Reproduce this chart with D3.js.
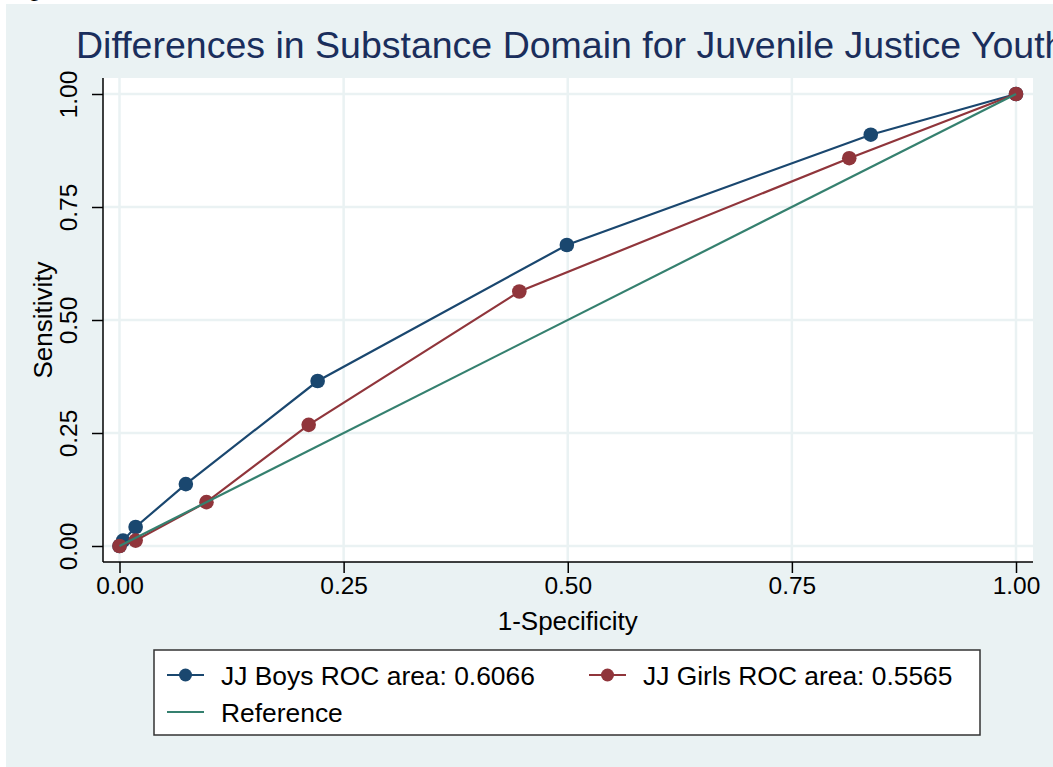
<!DOCTYPE html>
<html>
<head>
<meta charset="utf-8">
<script src="https://cdn.jsdelivr.net/npm/d3@7"></script>
<style>
    body { margin: 0; background: #ffffff; }
    text { font-family: "Liberation Sans", Arial, sans-serif; }
</style>
</head>
<body>
<div id="roc-chart"></div>
<script>

// ROC curve points (1-specificity, sensitivity)
const boysFpr = [0.000, 0.004, 0.018, 0.074, 0.221, 0.499, 0.838, 1.000];
const boysTpr = [0.000, 0.012, 0.042, 0.137, 0.365, 0.666, 0.910, 1.000];

const girlsFpr = [0.000, 0.018, 0.097, 0.211, 0.446, 0.814, 1.000];
const girlsTpr = [0.000, 0.012, 0.097, 0.268, 0.563, 0.858, 1.000];

const refLine = [0, 1];

const tickValues = [0, 0.25, 0.5, 0.75, 1];
const tickLabels = ["0.00", "0.25", "0.50", "0.75", "1.00"];

const legendLabels = ["JJ Boys ROC area: 0.6066", "JJ Girls ROC area: 0.5565", "Reference"];

class RocVis {

    constructor(parentElement) {
        this.parentElement = parentElement;

        this.colors = {boys: "#1a476f", girls: "#90353b", ref: "#35806f"};

        this.initVis()
    }

    initVis() {
        let vis = this;

        vis.width = 1053;
        vis.height = 767;

        vis.svg = d3.select("#" + vis.parentElement).append("svg")
            .attr("width", vis.width)
            .attr("height", vis.height)
            .style("display", "block");

        // outer graph region
        vis.svg.append("rect")
            .attr("x", 6).attr("y", 4)
            .attr("width", vis.width - 6).attr("height", vis.height - 4)
            .attr("fill", "#eaf2f3");

        // bit of a glyph cut off at the top (as in the source image)
        vis.svg.append("text")
            .attr("x", 28).attr("y", -4)
            .attr("font-size", 24)
            .text("g");

        // plot region
        vis.plot = {left: 103, right: 1033, top: 78, bottom: 562};

        vis.svg.append("rect")
            .attr("x", vis.plot.left).attr("y", vis.plot.top)
            .attr("width", vis.plot.right - vis.plot.left)
            .attr("height", vis.plot.bottom - vis.plot.top)
            .attr("fill", "#ffffff");

        vis.xScale = d3.scaleLinear()
            .domain([0, 1])
            .range([119.5, 1016]);

        vis.yScale = d3.scaleLinear()
            .domain([0, 1])
            .range([546, 94]);

        // grid lines
        vis.svg.append("g")
            .selectAll("line")
            .data(tickValues)
            .enter().append("line")
            .attr("x1", d => vis.xScale(d)).attr("x2", d => vis.xScale(d))
            .attr("y1", vis.plot.top).attr("y2", vis.plot.bottom)
            .attr("stroke", "#eaf2f3")
            .attr("stroke-width", 2.5);

        vis.svg.append("g")
            .selectAll("line")
            .data(tickValues)
            .enter().append("line")
            .attr("y1", d => vis.yScale(d)).attr("y2", d => vis.yScale(d))
            .attr("x1", vis.plot.left).attr("x2", vis.plot.right)
            .attr("stroke", "#eaf2f3")
            .attr("stroke-width", 2.5);

        // axes
        vis.xAxis = d3.axisBottom(vis.xScale)
            .tickValues(tickValues)
            .tickFormat((d, i) => tickLabels[i])
            .tickSize(11)
            .tickPadding(4)
            .tickSizeOuter(0);

        vis.yAxis = d3.axisLeft(vis.yScale)
            .tickValues(tickValues)
            .tickFormat((d, i) => tickLabels[i])
            .tickSize(11)
            .tickSizeOuter(0);

        vis.xAxisGroup = vis.svg.append("g")
            .attr("class", "x-axis axis")
            .attr("transform", `translate(0, ${vis.plot.bottom})`)
            .call(vis.xAxis);

        vis.xAxisGroup.select(".domain").remove();
        vis.xAxisGroup.append("line")
            .attr("x1", vis.plot.left).attr("x2", vis.plot.right)
            .attr("stroke", "#000").attr("stroke-width", 1.5);

        vis.xAxisGroup.selectAll(".tick line").attr("stroke-width", 1.5);
        vis.xAxisGroup.selectAll(".tick text")
            .attr("font-family", "Liberation Sans, Arial, sans-serif")
            .attr("font-size", 24.5)
            .attr("fill", "#000");

        vis.yAxisGroup = vis.svg.append("g")
            .attr("class", "y-axis axis")
            .attr("transform", `translate(${vis.plot.left}, 0)`)
            .call(vis.yAxis);

        vis.yAxisGroup.select(".domain").remove();
        vis.yAxisGroup.append("line")
            .attr("y1", vis.plot.top).attr("y2", vis.plot.bottom)
            .attr("stroke", "#000").attr("stroke-width", 1.5);

        vis.yAxisGroup.selectAll(".tick line").attr("stroke-width", 1.5);
        vis.yAxisGroup.selectAll(".tick text")
            .attr("font-family", "Liberation Sans, Arial, sans-serif")
            .attr("font-size", 24.5)
            .attr("fill", "#000")
            .attr("x", null).attr("dy", null)
            .attr("text-anchor", "middle")
            .attr("transform", "translate(-26, 0) rotate(-90)");

        // axis titles
        vis.svg.append("text")
            .attr("x", vis.xScale(0.5)).attr("y", 630)
            .attr("text-anchor", "middle")
            .attr("font-size", 26)
            .text("1-Specificity");

        vis.svg.append("text")
            .attr("transform", `translate(52, ${vis.yScale(0.5)}) rotate(-90)`)
            .attr("text-anchor", "middle")
            .attr("font-size", 26)
            .text("Sensitivity");

        // title
        vis.svg.append("text")
            .attr("x", 76).attr("y", 58)
            .attr("font-size", 37.5)
            .attr("fill", "#1a2e5c")
            .text("Differences in Substance Domain for Juvenile Justice Youth");

        vis.wrangleVis()
    }

    wrangleVis() {
        let vis = this;

        vis.boys = boysFpr.map((x, i) => ({x: x, y: boysTpr[i]}));
        vis.girls = girlsFpr.map((x, i) => ({x: x, y: girlsTpr[i]}));
        vis.ref = refLine.map(v => ({x: v, y: v}));

        vis.updateVis()
    }

    updateVis() {
        let vis = this;

        let line = d3.line()
            .x(d => vis.xScale(d.x))
            .y(d => vis.yScale(d.y));

        let series = [
            {data: vis.boys, color: vis.colors.boys, dots: true},
            {data: vis.girls, color: vis.colors.girls, dots: true},
            {data: vis.ref, color: vis.colors.ref, dots: false}
        ];

        // lines and markers per series, in plotting order
        series.forEach(s => {
            vis.svg.append("path")
                .datum(s.data)
                .attr("d", line)
                .attr("fill", "none")
                .attr("stroke", s.color)
                .attr("stroke-width", 2.2);

            if (s.dots) {
                vis.svg.append("g")
                    .selectAll("circle")
                    .data(s.data)
                    .enter().append("circle")
                    .attr("cx", d => vis.xScale(d.x))
                    .attr("cy", d => vis.yScale(d.y))
                    .attr("r", 7.3)
                    .attr("fill", s.color);
            }
        });

        vis.drawLegend()
    }

    drawLegend() {
        let vis = this;

        let legend = vis.svg.append("g");

        legend.append("rect")
            .attr("x", 154).attr("y", 650)
            .attr("width", 826).attr("height", 85)
            .attr("fill", "#ffffff")
            .attr("stroke", "#333333")
            .attr("stroke-width", 1.5);

        let items = [
            {label: legendLabels[0], color: vis.colors.boys, dot: true, x: 167, y: 675},
            {label: legendLabels[1], color: vis.colors.girls, dot: true, x: 589, y: 675},
            {label: legendLabels[2], color: vis.colors.ref, dot: false, x: 167, y: 712}
        ];

        items.forEach(it => {
            legend.append("line")
                .attr("x1", it.x).attr("x2", it.x + 37)
                .attr("y1", it.y).attr("y2", it.y)
                .attr("stroke", it.color)
                .attr("stroke-width", 2.2);

            if (it.dot) {
                legend.append("circle")
                    .attr("cx", it.x + 18.5).attr("cy", it.y)
                    .attr("r", 6.5)
                    .attr("fill", it.color);
            }

            legend.append("text")
                .attr("x", it.x + 54).attr("y", it.y + 10)
                .attr("font-size", 26.4)
                .text(it.label);
        });
    }
}

new RocVis("roc-chart");
</script>
</body>
</html>
